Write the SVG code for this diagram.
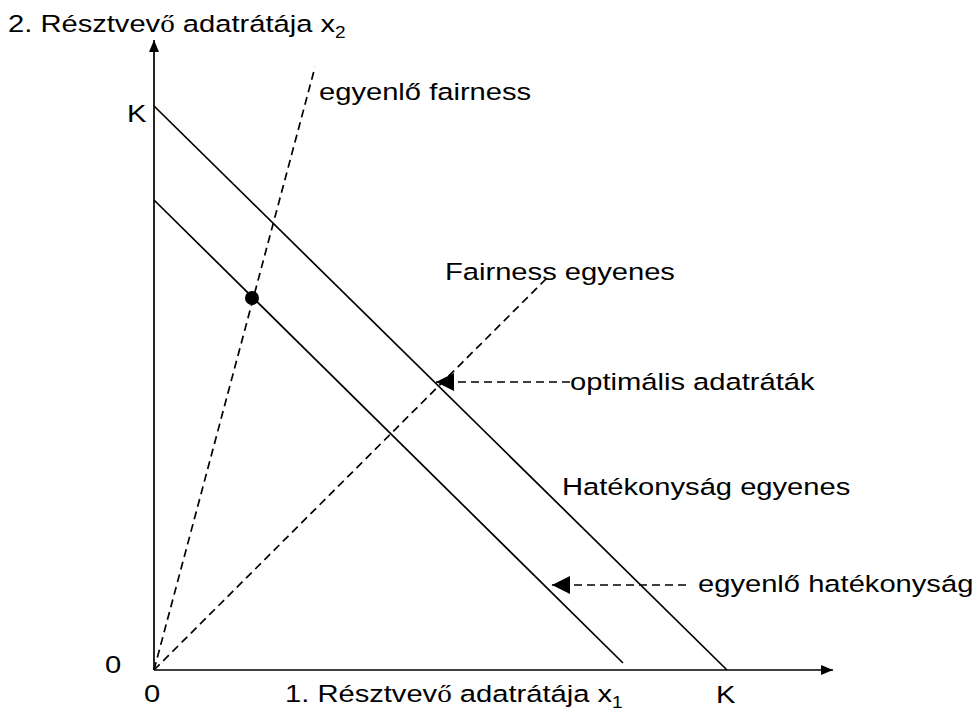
<svg xmlns="http://www.w3.org/2000/svg" width="979" height="715" viewBox="0 0 979 715">
<style>
text{font-family:"Liberation Sans",Arial,sans-serif;font-size:24.5px;fill:#000}
.sv{font-family:"Liberation Serif","Times New Roman",serif}
.sub{font-size:16px}
.solid{stroke:#000;stroke-width:1.7;fill:none}
.dash{stroke:#000;stroke-width:1.7;fill:none;stroke-dasharray:8 5}
</style>
<defs>
<marker id="ax" viewBox="0 0 12 10" refX="12" refY="5" markerWidth="12" markerHeight="10" markerUnits="userSpaceOnUse" orient="auto">
<path d="M0,0 L12,5 L0,10 z" fill="#000"/>
</marker>
<marker id="ar" viewBox="0 0 18 18" refX="18" refY="9" markerWidth="18" markerHeight="18" markerUnits="userSpaceOnUse" orient="auto">
<path d="M0,0 L18,9 L0,18 z" fill="#000"/>
</marker>
</defs>
<rect width="979" height="715" fill="#fff"/>
<g id="connectors">
<line class="solid" x1="154" y1="670" x2="154" y2="40" marker-end="url(#ax)"/>
<line class="solid" x1="154" y1="670" x2="833" y2="670" marker-end="url(#ax)"/>
<line class="solid" x1="154" y1="106" x2="727" y2="670"/>
<line class="solid" x1="154" y1="200" x2="623" y2="663"/>
<line class="dash" x1="154" y1="670" x2="315" y2="67"/>
<line class="dash" x1="154" y1="670" x2="548" y2="277"/>
<line class="dash" x1="570" y1="382" x2="436" y2="382" marker-end="url(#ar)"/>
<line class="dash" x1="686" y1="585" x2="552" y2="585" marker-end="url(#ar)"/>
</g>
<g id="point"><circle cx="252" cy="298" r="7" fill="#000"/></g>
<g id="label-y-axis"><text transform="translate(8 32) scale(1.19 1)">2. Résztvev<tspan class="sv">ő</tspan> adatrátája x<tspan class="sub" dy="6">2</tspan></text></g>
<g id="label-k-top"><text transform="translate(127 122) scale(1.19 1)">K</text></g>
<g id="label-egyenlo-fairness"><text transform="translate(319 100) scale(1.19 1)">egyenlő fairness</text></g>
<g id="label-fairness-egyenes"><text transform="translate(445 280) scale(1.19 1)">Fairness egyenes</text></g>
<g id="label-optimalis"><text transform="translate(570 390) scale(1.19 1)">optimális adatráták</text></g>
<g id="label-hatekonysag-egyenes"><text transform="translate(562 495) scale(1.19 1)">Hatékonyság egyenes</text></g>
<g id="label-egyenlo-hatekonysag"><text transform="translate(698 592) scale(1.19 1)">egyenlő hatékonyság</text></g>
<g id="label-zero-y"><text transform="translate(105 673) scale(1.19 1)">0</text></g>
<g id="label-zero-x"><text transform="translate(144 702) scale(1.19 1)">0</text></g>
<g id="label-x-axis"><text transform="translate(285 702) scale(1.19 1)">1. Résztvev<tspan class="sv">ő</tspan> adatrátája x<tspan class="sub" dy="6">1</tspan></text></g>
<g id="label-k-bottom"><text transform="translate(716 703) scale(1.19 1)">K</text></g>
</svg>
